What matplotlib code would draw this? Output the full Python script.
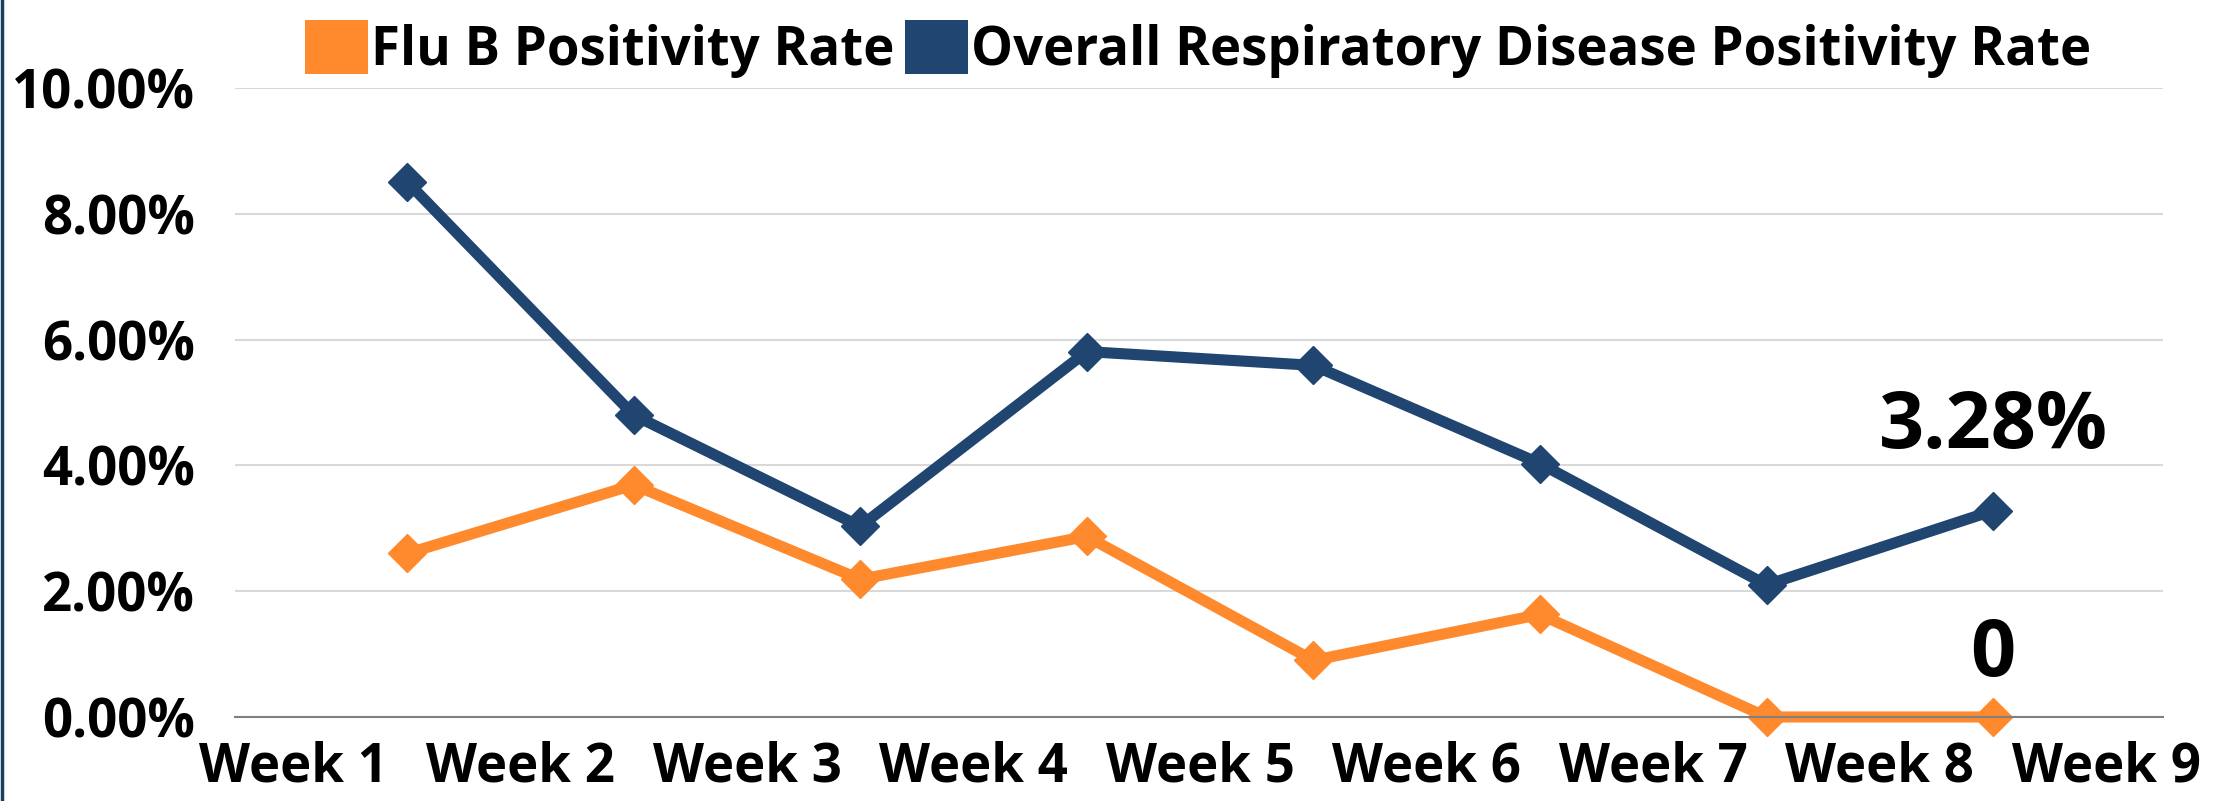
import matplotlib.pyplot as plt
from matplotlib.patches import Patch
from matplotlib.lines import Line2D

plt.rcParams['font.family'] = ['Open Sans', 'DejaVu Sans']
plt.rcParams['font.weight'] = 'bold'

# data
weeks = ['Week 1', 'Week 2', 'Week 3', 'Week 4', 'Week 5', 'Week 6', 'Week 7', 'Week 8', 'Week 9']
flu_b = [2.60, 3.69, 2.19, 2.87, 0.90, 1.63, 0.0, 0.0]
overall = [8.51, 4.80, 3.03, 5.81, 5.59, 4.03, 2.10, 3.28]
names = ['Flu B Positivity Rate', 'Overall Respiratory Disease Positivity Rate']
c_orange = '#FF8A2E'
c_blue = '#204571'

fig = plt.figure(figsize=(22.29, 8.01), dpi=100)
ax = fig.add_axes([0.1054, 0.1049, 0.8650, 0.7852])

# points sit between the category labels
xs = [i + 0.5 for i in range(len(overall))]
ax.plot(xs, flu_b, color=c_orange, lw=8, marker='D', ms=19, clip_on=False, zorder=3)
ax.plot(xs, overall, color=c_blue, lw=8, marker='D', ms=19, clip_on=False, zorder=3)

# data labels on the last week
ax.annotate(f'{overall[-1]:.2f}%', (xs[-1], overall[-1]), xytext=(0, 60),
            textcoords='offset points', ha='center', va='center', fontsize=57,
            fontweight='bold')
ax.annotate(f'{flu_b[-1]:g}', (xs[-1], flu_b[-1]), xytext=(0, 44),
            textcoords='offset points', ha='center', va='center', fontsize=57,
            fontweight='bold')

ax.set_xlim(-0.26, 8.25)
ax.set_ylim(0, 10)
ax.set_xticks(range(len(weeks)))
ax.set_xticklabels(weeks)
ax.set_yticks([0, 2, 4, 6, 8, 10])
ax.set_yticklabels([f'{v:.2f}%' for v in [0, 2, 4, 6, 8, 10]])
ax.tick_params(axis='both', length=0, labelsize=38)
ax.tick_params(axis='y', pad=29)
ax.tick_params(axis='x', pad=17)

ax.grid(axis='y', color='#D9D9D9', lw=1.5)
ax.set_axisbelow(True)
for s in ['top', 'right', 'left']:
    ax.spines[s].set_visible(False)
ax.spines['bottom'].set_color('#7F7F7F')
ax.spines['bottom'].set_linewidth(1.5)
ax.spines['bottom'].set_zorder(5)

handles = [Patch(facecolor=c_orange, edgecolor='none'), Patch(facecolor=c_blue, edgecolor='none')]
fig.legend(handles, names, loc='center', bbox_to_anchor=(0.5375, 0.939), ncol=2,
           frameon=False, fontsize=38, handlelength=1.2, handleheight=1.2,
           handletextpad=0.05, columnspacing=0.2, borderpad=0, borderaxespad=0)

# thin dark bar on the left edge
fig.add_artist(Line2D([0.0007, 0.0007], [0, 1], color='#1B3F63', lw=2.5, transform=fig.transFigure))

fig.savefig('out.png', dpi=100)
